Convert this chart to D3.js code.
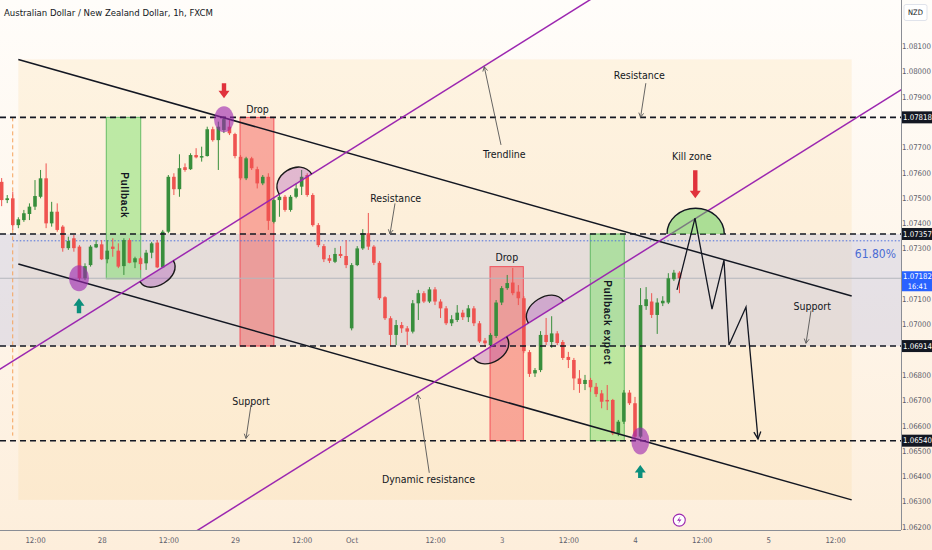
<!DOCTYPE html>
<html><head><meta charset="utf-8">
<script src="https://cdn.jsdelivr.net/npm/d3@7"></script>
<style>
html,body{margin:0;padding:0;background:#fff;}
svg{display:block;}
text{font-family:"Liberation Sans Narrow","Arial Narrow","DejaVu Sans Condensed",sans-serif;}
</style></head><body>
<svg id="chart" width="932" height="550"></svg>
<script>
// ---------------- data ----------------
const firstBar = -6; // bar index of first candle (bar 0 = 27 Sep 12:00)
const opens = [1.07563,1.07491,1.07498,1.07392,1.07412,1.07436,1.07465,1.07504,1.07577,1.07399,1.07445,1.07386,1.07301,1.07340,1.07307,1.07182,1.07234,1.07304,1.07316,1.07257,1.07307,1.07291,1.07230,1.07333,1.07245,1.07261,1.07241,1.07283,1.07323,1.07225,1.07366,1.07583,1.07534,1.07621,1.07613,1.07669,1.07659,1.07665,1.07771,1.07728,1.07768,1.07781,1.07752,1.07662,1.07577,1.07656,1.07613,1.07557,1.07583,1.07405,1.07491,1.07504,1.07452,1.07504,1.07544,1.07590,1.07511,1.07392,1.07309,1.07261,1.07247,1.07278,1.07270,1.06984,1.07234,1.07300,1.07360,1.07307,1.07243,1.07107,1.07024,1.06958,1.06997,1.06984,1.06971,1.07083,1.07123,1.07090,1.07138,1.07090,1.07063,1.07004,1.07017,1.07046,1.07028,1.07063,1.07004,1.06936,1.06918,1.06954,1.07086,1.07143,1.07165,1.07129,1.07103,1.06890,1.06806,1.06819,1.06958,1.06930,1.06964,1.06930,1.06871,1.06859,1.06786,1.06764,1.06780,1.06753,1.06727,1.06701,1.06701,1.06569,1.06615,1.06730,1.06688,1.06556,1.07072,1.07090,1.07037,1.07083,1.07086,1.07178,1.07204];
const highs = [1.07578,1.07511,1.07524,1.07423,1.07452,1.07478,1.07570,1.07610,1.07636,1.07484,1.07478,1.07392,1.07346,1.07353,1.07313,1.07241,1.07313,1.07333,1.07333,1.07333,1.07340,1.07320,1.07340,1.07340,1.07267,1.07267,1.07294,1.07326,1.07333,1.07373,1.07590,1.07597,1.07672,1.07636,1.07676,1.07696,1.07702,1.07781,1.07781,1.07801,1.07822,1.07807,1.07757,1.07669,1.07662,1.07662,1.07623,1.07590,1.07597,1.07498,1.07511,1.07511,1.07511,1.07557,1.07610,1.07597,1.07518,1.07400,1.07317,1.07274,1.07302,1.07309,1.07333,1.07242,1.07309,1.07376,1.07440,1.07313,1.07250,1.07111,1.07032,1.07017,1.07009,1.06993,1.07096,1.07136,1.07131,1.07147,1.07147,1.07099,1.07072,1.07036,1.07076,1.07057,1.07076,1.07072,1.07013,1.06946,1.06965,1.07096,1.07151,1.07195,1.07223,1.07155,1.07111,1.06898,1.06827,1.06973,1.07025,1.07032,1.06973,1.06938,1.06891,1.06867,1.06819,1.06800,1.06788,1.06768,1.06740,1.06760,1.06705,1.06622,1.06740,1.06740,1.06713,1.07143,1.07147,1.07123,1.07103,1.07111,1.07202,1.07215,1.07210];
const lows = [1.07467,1.07479,1.07373,1.07380,1.07405,1.07412,1.07452,1.07498,1.07380,1.07386,1.07366,1.07287,1.07294,1.07287,1.07175,1.07175,1.07228,1.07301,1.07254,1.07241,1.07267,1.07222,1.07195,1.07241,1.07222,1.07215,1.07215,1.07261,1.07222,1.07222,1.07360,1.07511,1.07504,1.07603,1.07610,1.07656,1.07643,1.07663,1.07722,1.07610,1.07756,1.07748,1.07656,1.07570,1.07570,1.07610,1.07537,1.07550,1.07373,1.07399,1.07425,1.07445,1.07445,1.07498,1.07511,1.07504,1.07386,1.07305,1.07246,1.07242,1.07242,1.07262,1.07222,1.06976,1.07230,1.07294,1.07294,1.07234,1.07096,1.07017,1.06915,1.06918,1.06966,1.06918,1.06964,1.07017,1.07084,1.07084,1.07076,1.07025,1.06997,1.06993,1.07009,1.07017,1.07009,1.06993,1.06926,1.06910,1.06910,1.06946,1.07076,1.07136,1.07115,1.07076,1.06886,1.06792,1.06792,1.06811,1.06918,1.06907,1.06918,1.06859,1.06827,1.06740,1.06729,1.06740,1.06733,1.06713,1.06668,1.06661,1.06562,1.06558,1.06606,1.06681,1.06541,1.06550,1.07057,1.07025,1.06962,1.07072,1.07080,1.07171,1.07123];
const closes = [1.07491,1.07498,1.07392,1.07415,1.07439,1.07465,1.07507,1.07577,1.07399,1.07445,1.07373,1.07301,1.07329,1.07301,1.07182,1.07230,1.07307,1.07317,1.07257,1.07291,1.07298,1.07228,1.07333,1.07243,1.07261,1.07238,1.07283,1.07320,1.07225,1.07366,1.07583,1.07534,1.07617,1.07610,1.07669,1.07660,1.07665,1.07771,1.07728,1.07781,1.07811,1.07755,1.07665,1.07577,1.07656,1.07617,1.07557,1.07583,1.07409,1.07491,1.07504,1.07452,1.07504,1.07537,1.07583,1.07511,1.07392,1.07313,1.07257,1.07251,1.07278,1.07270,1.07234,1.07234,1.07300,1.07360,1.07307,1.07243,1.07103,1.07024,1.06958,1.06997,1.06984,1.06971,1.07083,1.07123,1.07090,1.07138,1.07090,1.07063,1.07004,1.07020,1.07046,1.07028,1.07063,1.07004,1.06932,1.06925,1.06958,1.07086,1.07143,1.07163,1.07123,1.07103,1.06894,1.06804,1.06819,1.06958,1.06930,1.06964,1.06926,1.06867,1.06859,1.06786,1.06764,1.06780,1.06751,1.06724,1.06694,1.06695,1.06569,1.06615,1.06730,1.06688,1.06556,1.07076,1.07099,1.07037,1.07086,1.07093,1.07182,1.07204,1.07182];

const timeTickIdx = [0,12,24,36,48,57,72,84,96,108,120,132,144];
const timeTickLabels = ["12:00","28","12:00","29","12:00","Oct","12:00","3","12:00","4","12:00","5","12:00"];
const priceTicks = [1.081,1.080,1.079,1.077,1.076,1.075,1.074,1.073,1.071,1.070,1.068,1.067,1.066,1.065,1.064,1.063,1.062];
const levelPrices = [1.07818,1.07357,1.06914,1.06540];
const lastPrice = 1.07182;
const lastTimer = "16:41";
const fibPrice = 1.07330;
const fibLabel = "61.80%";

// drawings, in (bar, price)
const channelTop = [[-3,1.08047],[147,1.07112]];
const channelBottom = [[-3,1.07238],[147,1.06306]];
const trend1 = [[0,1.06909],[100,1.08284]];
const trend2 = [[30,1.06196],[150,1.07846]];
const zones = [
  {b0:12.83,b1:19.03,p0:1.07818,p1:1.07180,kind:"g"},
  {b0:36.9,b1:43.0,p0:1.07818,p1:1.06914,kind:"r"},
  {b0:81.9,b1:87.9,p0:1.07228,p1:1.06540,kind:"r"},
  {b0:99.95,b1:106.07,p0:1.07357,p1:1.06540,kind:"g"}
];
const arcs = [
  {line:trend1,b0:18.9,b1:24.9,h:14,side:1},
  {line:trend1,b0:43.97,b1:49.8,h:16,side:-1},
  {line:trend2,b0:78.9,b1:84.9,h:15,side:1},
  {line:trend2,b0:88.8,b1:95.1,h:15,side:-1}
];
const circles = [[34.02,1.07810,10,13],[7.92,1.07182,10,13],[108.95,1.06539,9,13.5]];
const killZone = {b0:113.76,b1:124.07,base:1.07357,top:1.07459};
const zigzag = [[115.56,1.07136],[118.8,1.07420],[121.86,1.07060],[124.02,1.07254],[124.92,1.06918],[127.98,1.07068],[130.14,1.06547]];
const redArrows = [[34.02,1.07893,15],[118.85,1.07498,28]];
const tealArrows = [[7.92,1.07103,15],[108.95,1.06444,13]];
const callouts = [
  [[109.95,1.07953],[109.0,1.07818]],
  [[83.88,1.07709],[80.87,1.08018]],
  [[64.8,1.07478],[63.9,1.07357]],
  [[139.68,1.07054],[138.78,1.06925]],
  [[38.88,1.06681],[37.98,1.06549]],
  [[70.97,1.06413],[68.89,1.06721]]
];
const labels = [
  ["Resistance",108.77,1.07983],["Trendline",84.47,1.07672],["Kill zone",118.22,1.07665],
  ["Resistance",64.93,1.07498],["Drop",40.05,1.07851],["Drop",84.92,1.07265],
  ["Support",139.9,1.07072],["Support",38.88,1.06694],["Dynamic resistance",70.83,1.06389]
];
const vLabels = [["Pullback",16.06,1.07510],["Pullback expect",103.05,1.07007]];
const shadeBox = {b0:-3,b1:147,p0:1.08047,p1:1.06306};
const bandRange = [1.07357,1.06914];
const startMarker = {bar:-4.01,p0:1.07818,p1:1.06560};
const eventIcon = [115.97,1.06226];
const title = "Australian Dollar / New Zealand Dollar, 1h, FXCM";

// ---------------- chart ----------------
const W=932,H=550,PR=901,PB=530;
const x = d3.scaleLinear().domain([0,144]).range([35,835]);
const y = d3.scaleLinear().domain([1.062,1.081]).range([526.7,46]);
const svg = d3.select("#chart");
const defs = svg.append("defs");
const gr = defs.append("linearGradient").attr("id","bg").attr("x1",0).attr("y1",0).attr("x2",0).attr("y2",1);
gr.append("stop").attr("offset","0%").attr("stop-color","#fffdfa");
gr.append("stop").attr("offset","100%").attr("stop-color","#fdeedb");
svg.append("rect").attr("width",W).attr("height",H).attr("fill","url(#bg)");
defs.append("clipPath").attr("id","clip").append("rect").attr("width",PR).attr("height",PB);
const plot = svg.append("g").attr("clip-path","url(#clip)");

const px = d=>x(d[0]), py = d=>y(d[1]);
const priceAt=(ln,b)=>ln[0][1]+(b-ln[0][0])*(ln[1][1]-ln[0][1])/(ln[1][0]-ln[0][0]);

// shading
plot.append("rect").attr("x",x(shadeBox.b0)).attr("y",y(shadeBox.p0))
  .attr("width",x(shadeBox.b1)-x(shadeBox.b0)).attr("height",y(shadeBox.p1)-y(shadeBox.p0))
  .attr("fill","rgba(252,212,150,0.22)");
plot.append("rect").attr("x",0).attr("y",y(bandRange[0])).attr("width",PR)
  .attr("height",y(bandRange[1])-y(bandRange[0])).attr("fill","rgba(180,184,222,0.32)");

// zones
zones.forEach(z=>{
  plot.append("rect").attr("x",x(z.b0)).attr("y",y(z.p0)).attr("width",x(z.b1)-x(z.b0))
   .attr("height",y(z.p1)-y(z.p0))
   .attr("fill",z.kind==="g"?"rgba(110,225,95,0.45)":"rgba(242,70,70,0.42)")
   .attr("stroke",z.kind==="g"?"rgba(76,175,80,0.8)":"rgba(242,54,69,0.8)").attr("stroke-width",1);
});

// lines: price line, fib dotted, start marker
plot.append("line").attr("x1",0).attr("x2",PR).attr("y1",y(lastPrice)).attr("y2",y(lastPrice))
  .attr("stroke","#b4b6bd").attr("stroke-width",1);
plot.append("line").attr("x1",x(-4)).attr("x2",PR).attr("y1",y(fibPrice)).attr("y2",y(fibPrice))
  .attr("stroke","#4c6fdc").attr("stroke-width",1).attr("stroke-dasharray","1.5,2");
plot.append("line").attr("x1",x(startMarker.bar)).attr("x2",x(startMarker.bar))
  .attr("y1",y(startMarker.p0)).attr("y2",y(startMarker.p1))
  .attr("stroke","#f5a25a").attr("stroke-width",1).attr("stroke-dasharray","4,3");

// candles
const bars = opens.map((o,k)=>({i:firstBar+k,o,h:highs[k],l:lows[k],c:closes[k]}));
const cg = plot.append("g");
const up="#388e3c", dn="#ef5350";
cg.selectAll("line.w").data(bars).join("line").attr("class","w")
  .attr("x1",d=>x(d.i)).attr("x2",d=>x(d.i)).attr("y1",d=>y(d.h)).attr("y2",d=>y(d.l))
  .attr("stroke",d=>d.c>=d.o?up:dn).attr("stroke-width",1);
cg.selectAll("rect.b").data(bars).join("rect").attr("class","b")
  .attr("x",d=>x(d.i)-1.8).attr("width",3.6)
  .attr("y",d=>y(Math.max(d.o,d.c))).attr("height",d=>Math.max(1,Math.abs(y(d.o)-y(d.c))))
  .attr("fill",d=>d.c>=d.o?up:dn);

// dashed levels
levelPrices.forEach(p=>{
  plot.append("line").attr("x1",0).attr("x2",PR).attr("y1",y(p)).attr("y2",y(p))
   .attr("stroke","#131722").attr("stroke-width",1.6).attr("stroke-dasharray","6,4");
});

// channel lines
[channelTop,channelBottom].forEach(ln=>{
  plot.append("line").attr("x1",px(ln[0])).attr("y1",py(ln[0])).attr("x2",px(ln[1])).attr("y2",py(ln[1]))
   .attr("stroke","#131722").attr("stroke-width",1.5);
});
// trend lines (extended)
[trend1,trend2].forEach(ln=>{
  const a=-20,b=180;
  plot.append("line").attr("x1",x(a)).attr("y1",y(priceAt(ln,a))).attr("x2",x(b)).attr("y2",y(priceAt(ln,b)))
   .attr("stroke","#9c27b0").attr("stroke-width",1.5);
});

// arcs
arcs.forEach(a=>{
  const A=[x(a.b0),y(priceAt(a.line,a.b0))], B=[x(a.b1),y(priceAt(a.line,a.b1))];
  const dx=B[0]-A[0], dy=B[1]-A[1], L=Math.hypot(dx,dy);
  const n=[-dy/L*a.side, dx/L*a.side], k=a.h*1.33;
  const c1=[A[0]+n[0]*k,A[1]+n[1]*k], c2=[B[0]+n[0]*k,B[1]+n[1]*k];
  const d=`M${A}C${c1} ${c2} ${B}`;
  plot.append("path").attr("d",d+"Z").attr("fill","rgba(156,39,176,0.28)");
  plot.append("path").attr("d",d).attr("fill","none").attr("stroke","#1a1a1a").attr("stroke-width",1.4);
});

// circles
circles.forEach(c=>{
  plot.append("ellipse").attr("cx",x(c[0])).attr("cy",y(c[1])).attr("rx",c[2]).attr("ry",c[3])
   .attr("fill","rgba(156,39,176,0.62)");
});

// kill zone
{
  const x1=x(killZone.b0),x2=x(killZone.b1),yb=y(killZone.base),ry=yb-y(killZone.top),rx=(x2-x1)/2;
  const d=`M${x1},${yb}A${rx},${ry} 0 0 1 ${x2},${yb}`;
  plot.append("path").attr("d",d+"Z").attr("fill","rgba(90,205,80,0.5)");
  plot.append("path").attr("d",d).attr("fill","none").attr("stroke","#131722").attr("stroke-width",1.4);
}

function vHead(x1,y1,x2,y2,len,spread){
  const ang=Math.atan2(y2-y1,x2-x1);
  const a1=ang+Math.PI-spread,a2=ang+Math.PI+spread;
  return `M${x2+len*Math.cos(a1)},${y2+len*Math.sin(a1)}L${x2},${y2}L${x2+len*Math.cos(a2)},${y2+len*Math.sin(a2)}`;
}
// zigzag
{
  const pts=zigzag.map(d=>[x(d[0]),y(d[1])]);
  plot.append("path").attr("d",d3.line()(pts)).attr("fill","none").attr("stroke","#131722").attr("stroke-width",1.3);
  const n=pts.length;
  plot.append("path").attr("d",vHead(pts[n-2][0],pts[n-2][1],pts[n-1][0],pts[n-1][1],8,0.45))
   .attr("fill","none").attr("stroke","#131722").attr("stroke-width",1.3);
}
// callouts
callouts.forEach(c=>{
  const x1=px(c[0]),y1=py(c[0]),x2=px(c[1]),y2=py(c[1]);
  plot.append("line").attr("x1",x1).attr("y1",y1).attr("x2",x2).attr("y2",y2).attr("stroke","#555").attr("stroke-width",0.9);
  plot.append("path").attr("d",vHead(x1,y1,x2,y2,5,0.5)).attr("fill","none").attr("stroke","#555").attr("stroke-width",0.9);
});
// block arrows
function blockArrow(tx,ty,L,dir,color){ // dir 1 = pointing down, -1 = pointing up
  const h=7.5,hw=5.5,sw=2.2;
  const p=[[tx-sw,ty-dir*L],[tx+sw,ty-dir*L],[tx+sw,ty-dir*h],[tx+hw,ty-dir*h],[tx,ty],[tx-hw,ty-dir*h],[tx-sw,ty-dir*h]];
  plot.append("polygon").attr("points",p.map(q=>q.join(",")).join(" ")).attr("fill",color);
}
redArrows.forEach(a=>blockArrow(x(a[0]),y(a[1]),a[2],1,"#e0323c"));
tealArrows.forEach(a=>blockArrow(x(a[0]),y(a[1]),a[2],-1,"#0b8f7c"));

// labels
labels.forEach(l=>{
  plot.append("text").attr("x",x(l[1])).attr("y",y(l[2])).attr("dy","0.35em").attr("text-anchor","middle")
   .attr("font-size",10.5).attr("fill","#131722").text(l[0]);
});
vLabels.forEach(l=>{
  plot.append("text").attr("transform",`translate(${x(l[1])},${y(l[2])}) rotate(90)`).attr("dy","0.35em")
   .attr("text-anchor","middle").attr("font-size",10).attr("font-weight","bold").attr("letter-spacing",0.6)
   .style("font-family","'Liberation Sans',Arial,sans-serif").attr("fill","#131722").text(l[0]);
});
plot.append("text").attr("x",896).attr("y",y(fibPrice)).attr("dy","1.45em").attr("text-anchor","end")
  .attr("font-size",12).attr("fill","#4a6cd4").text(fibLabel);

// event icon
{
  const cx=x(eventIcon[0]),cy=y(eventIcon[1]);
  plot.append("circle").attr("cx",cx).attr("cy",cy).attr("r",6).attr("fill","#fff").attr("stroke","#9c27b0").attr("stroke-width",1.1);
  plot.append("path").attr("d",`M${cx+1.2},${cy-4}L${cx-2.2},${cy+0.6}L${cx+0.3},${cy+0.6}L${cx-1.2},${cy+4}L${cx+2.2},${cy-0.6}L${cx-0.3},${cy-0.6}Z`).attr("fill","#9c27b0");
}

// axes
svg.append("line").attr("x1",PR+0.5).attr("x2",PR+0.5).attr("y1",0).attr("y2",PB).attr("stroke","#8a8d95").attr("stroke-width",1);
svg.append("line").attr("x1",0).attr("x2",PR).attr("y1",PB+0.5).attr("y2",PB+0.5).attr("stroke","#8a8d95").attr("stroke-width",1);
const yAxis = svg.append("g").attr("transform",`translate(${PR},0)`)
  .call(d3.axisRight(y).tickValues(priceTicks).tickFormat(d3.format(".5f")).tickSize(0).tickPadding(0));
yAxis.select(".domain").remove();
yAxis.selectAll("text").attr("x",15.5).attr("text-anchor","middle").attr("font-size",7.8).attr("fill","#5d606b")
  .style("font-family",null);
const xAxis = svg.append("g").attr("transform",`translate(0,${PB})`)
  .call(d3.axisBottom(x).tickValues(timeTickIdx).tickFormat((d,k)=>timeTickLabels[k]).tickSize(0).tickPadding(0));
xAxis.select(".domain").remove();
xAxis.selectAll("text").attr("y",7).attr("font-size",7.8).attr("fill","#5d606b").style("font-family",null);

// price boxes
levelPrices.forEach(p=>{
  svg.append("rect").attr("x",PR+1).attr("y",y(p)-6).attr("width",31).attr("height",12).attr("fill","#131722");
  svg.append("text").attr("x",PR+16.5).attr("y",y(p)).attr("dy","0.35em").attr("text-anchor","middle")
   .attr("font-size",7.8).attr("fill","#fff").text(d3.format(".5f")(p));
});
svg.append("rect").attr("x",PR+1).attr("y",y(lastPrice)-7).attr("width",31).attr("height",20).attr("fill","#2962ff");
svg.append("text").attr("x",PR+16.5).attr("y",y(lastPrice)-1.5).attr("dy","0.35em").attr("text-anchor","middle")
  .attr("font-size",7.8).attr("fill","#fff").text(d3.format(".5f")(lastPrice));
svg.append("text").attr("x",PR+16.5).attr("y",y(lastPrice)+8).attr("dy","0.35em").attr("text-anchor","middle")
  .attr("font-size",7.5).attr("fill","#fff").text(lastTimer);

// NZD badge & title
svg.append("rect").attr("x",904).attr("y",4.5).attr("width",23).attr("height",16).attr("rx",2).attr("fill","#fff").attr("stroke","#e0e3eb");
svg.append("text").attr("x",915.5).attr("y",12.5).attr("dy","0.35em").attr("text-anchor","middle").attr("font-size",7.5).attr("fill","#131722").text("NZD");
svg.append("text").attr("x",4).attr("y",16).attr("font-size",9.5).attr("fill","#131722").text(title);
</script></body></html>
